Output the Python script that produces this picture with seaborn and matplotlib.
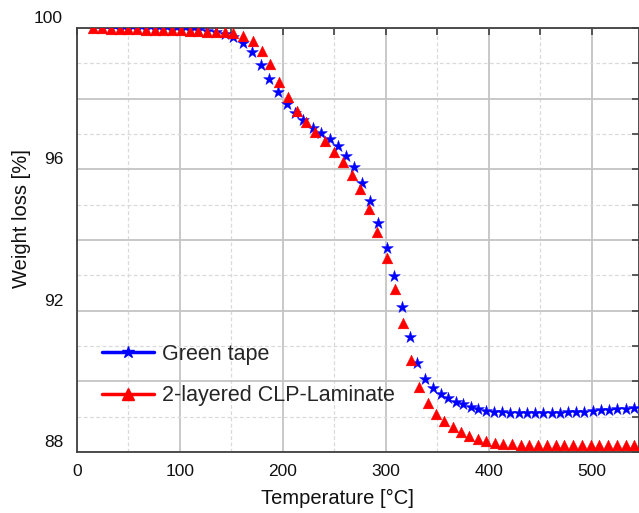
import numpy as np
import pandas as pd
import matplotlib
matplotlib.use("Agg")
import matplotlib.pyplot as plt
import matplotlib.transforms as mtransforms
from matplotlib.lines import Line2D
from matplotlib.ticker import MultipleLocator, FuncFormatter
import seaborn as sns

# Green tape (blue stars)
temp_green = [24.5, 33, 41.5, 50, 58.5, 67, 75.5, 84, 92.5, 101, 109.5, 118, 126.5, 135, 143.5,
              152, 161, 170, 178.3, 186.7, 195, 203.6, 211.7, 219.7, 228.8, 237.5, 245.6, 253.7,
              261.2, 269, 277, 284.5, 292.5, 300.7, 308, 315.5, 323.3, 330.7, 338.5, 346, 353.4,
              360.5, 368, 375, 382.5, 389.6, 397.7, 405.5, 413.3, 421, 429, 437, 445, 453, 461,
              469, 477, 485, 493, 501, 509, 517, 525, 533, 541]
wl_green = [100.0, 99.99, 99.98, 99.98, 99.97, 99.97, 99.96, 99.96, 99.95, 99.95, 99.94, 99.93,
            99.91, 99.88, 99.83, 99.75, 99.57, 99.31, 98.95, 98.55, 98.2, 97.84, 97.6, 97.4,
            97.18, 97.04, 96.86, 96.66, 96.38, 96.06, 95.62, 95.1, 94.47, 93.76, 92.97, 92.11,
            91.26, 90.51, 90.08, 89.8, 89.64, 89.52, 89.42, 89.35, 89.28, 89.22, 89.17, 89.14,
            89.12, 89.11, 89.1, 89.09, 89.09, 89.09, 89.1, 89.11, 89.12, 89.13, 89.14, 89.16,
            89.18, 89.19, 89.21, 89.22, 89.24]

# 2-layered CLP-Laminate (red triangles)
temp_clp = [16, 24.5, 33, 41.5, 50, 58.5, 67, 75.5, 84, 92.5, 101, 109.5, 118, 126.5, 135, 143.5,
            152, 161, 170.5, 179.6, 187.7, 196.4, 205.2, 213.9, 222.3, 231.7, 240.8, 249.5, 258,
            266.7, 275, 283.5, 291.9, 300.7, 308.7, 316.8, 324.5, 332.6, 340.7, 348.7, 357, 365,
            373, 381.2, 389.3, 397.5, 405.8, 414, 422.5, 431, 439.5, 448, 456.5, 465, 473.5, 482,
            490.5, 499, 507.5, 516, 524.5, 533, 541.5]
wl_clp = [100.0, 99.99, 99.98, 99.97, 99.97, 99.96, 99.95, 99.95, 99.94, 99.94, 99.93, 99.92,
          99.91, 99.9, 99.89, 99.88, 99.86, 99.78, 99.63, 99.36, 98.97, 98.48, 98.06, 97.66,
          97.35, 97.07, 96.81, 96.5, 96.22, 95.84, 95.43, 94.87, 94.24, 93.49, 92.62, 91.64,
          90.59, 89.83, 89.38, 89.08, 88.88, 88.7, 88.56, 88.45, 88.37, 88.3, 88.25, 88.23,
          88.22, 88.21, 88.2, 88.2, 88.2, 88.2, 88.2, 88.2, 88.2, 88.2, 88.2, 88.2, 88.2,
          88.2, 88.2]

label_green = "Green tape"
label_clp = "2-layered CLP-Laminate"

df_green = pd.DataFrame({"T": temp_green, "W": wl_green})
df_clp = pd.DataFrame({"T": temp_clp, "W": wl_clp})

sns.set_theme(style="white")
plt.rcParams["font.family"] = ["Liberation Sans", "DejaVu Sans"]

fig = plt.figure(figsize=(6.39, 5.13), dpi=100)
ax = fig.add_axes([77 / 639, 61 / 513, 561.5 / 639, 424 / 513])

sns.scatterplot(data=df_green, x="T", y="W", marker="*", color="#0000ff", s=80,
                edgecolor="#0000ff", linewidth=0.3, ax=ax, zorder=3)
sns.scatterplot(data=df_clp, x="T", y="W", marker="^", color="#ff0000", s=60,
                edgecolor="#ff0000", linewidth=0.3, ax=ax, zorder=4)

ax.set_xlim(0, 545.5)
ax.set_ylim(88, 100)

ax.xaxis.set_major_locator(MultipleLocator(100))
ax.xaxis.set_minor_locator(MultipleLocator(50))
ax.yaxis.set_major_locator(MultipleLocator(2))
ax.yaxis.set_minor_locator(MultipleLocator(1))
ax.yaxis.set_major_formatter(FuncFormatter(lambda v, p: f"{v:.0f}" if round(v) % 4 == 0 else ""))

ax.grid(which="major", color="#c4c4c4", linestyle="-", linewidth=1.3)
ax.grid(which="minor", color="#dadada", linestyle=(0, (3, 2)), linewidth=0.9)
ax.set_axisbelow(True)

for sp in ax.spines.values():
    sp.set_color("#404040")
    sp.set_linewidth(1.3)

ax.tick_params(which="both", direction="in", top=True, right=True, color="#404040",
               width=1.2, length=5, labelsize=12.5, labelcolor="#111111")
ax.tick_params(axis="x", pad=9)
ax.tick_params(axis="y", pad=10)

ax.set_xlabel("Temperature [°C]", fontsize=14.5, color="#111111")
ax.set_ylabel("Weight loss [%]", fontsize=14.5, color="#111111")
ax.xaxis.set_label_coords(0.463, -0.088)
ax.yaxis.set_label_coords(-0.082, 0.55)

handles = [
    Line2D([], [], color="#0000ff", linewidth=2.5, marker="*", markersize=9, label=label_green),
    Line2D([], [], color="#ff0000", linewidth=2.5, marker="^", markersize=8, label=label_clp),
]
ax.legend(handles=handles, loc="center left", bbox_to_anchor=(0.01, 0.182), frameon=False,
          fontsize=15.5, handlelength=2.4, handletextpad=0.4, labelspacing=0.95)

# y tick labels sit a bit above their tick in the original
fig.canvas.draw()
offset = mtransforms.ScaledTranslation(0, 11 / 100, fig.dpi_scale_trans)
for t in ax.yaxis.get_major_ticks():
    t.label1.set_transform(t.label1.get_transform() + offset)

fig.savefig("out.png", dpi=100)
